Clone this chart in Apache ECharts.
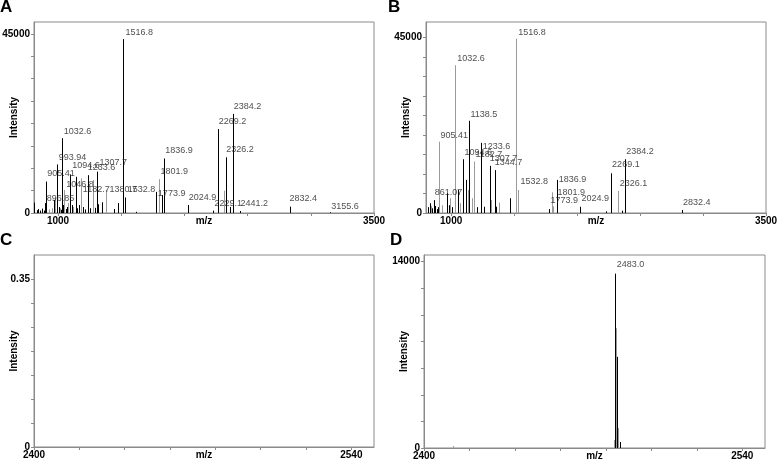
<!DOCTYPE html>
<html><head><meta charset="utf-8">
<script src="https://cdn.jsdelivr.net/npm/echarts@6/dist/echarts.min.js"></script>
<style>html,body{margin:0;padding:0;background:#fff}#c{width:777px;height:461px}</style>
</head><body><div id="c"></div>
<script>
// ---------- DATA ----------
// Panel A: [m/z, intensity]
const aBlack = [[812,2600],[830,700],[845,1000],[858,600],[872,1100],[886,600],[896.85,2500],[905.41,7900],[967,3300],[993.94,12200],[1005,1500],[1020,800],[1032.6,18800],[1040,2000],[1060,1000],[1070,1500],[1094.6,9700],[1110,2000],[1138.5,9100],[1150,1200],[1165,2000],[1200,1500],[1215,900],[1233.6,9500],[1250,1200],[1290,1300],[1307.7,10400],[1320,2200],[1350,2700],[1440,1000],[1473,2500],[1516.8,43700],[1532.8,3900],[1619,300],[1773.9,5300],[1820,4500],[1836.9,13700],[2024.9,2000],[2229.1,600],[2269.2,21100],[2326.2,14000],[2357,1500],[2384.2,24900],[2441.2,500],[2832.4,1600],[3155.6,200]];
const aGrey = [[930,900],[950,1200],[980,4000],[1015,1200],[1046.8,5800],[1080,2500],[1120,1500],[1182.7,8700],[1275,8300],[1380.7,5800],[1801.9,8500],[2317,5600]];
// label anchors: [m/z, intensity, text]
const aLabels = [[910,2770,'896.85'],[915,8920,'905.41'],[1006,13070,'993.94'],[1046,19600,'1032.6'],[1065,6280,'1046.8'],[1112,11060,'1094.6'],[1196,5030,'1182.7'],[1236,10560,'1233.6'],[1328,11810,'1307.7'],[1407,5030,'1380.7'],[1534,44500,'1516.8'],[1552,5030,'1532.8'],[1790,4020,'1773.9'],[1811,9430,'1801.9'],[1848,14700,'1836.9'],[2035,3020,'2024.9'],[2238,1510,'2229.1'],[2272,22000,'2269.2'],[2331,14960,'2326.2'],[2391,25770,'2384.2'],[2444,1510,'2441.2'],[2831,2770,'2832.4'],[3161,630,'3155.6']];

// Panel B
const bBlack = [[812,1500],[830,2500],[850,1200],[861.07,3300],[872,1800],[885,1000],[895,1500],[966,5100],[985,2000],[1010,1500],[1058,5900],[1094.6,13800],[1115,8500],[1138.5,23650],[1205,1500],[1233.6,18000],[1257,1600],[1307.7,12100],[1344.7,11000],[1355,1600],[1468,3800],[1773.9,1000],[1836.9,8500],[2024.9,1600],[2229,400],[2269.1,10200],[2355,600],[2384.2,13800],[2832.4,770]];
const bGrey = [[840,1800],[905.41,18300],[925,2000],[992,3800],[1032.6,37900],[1070,2500],[1132,5900],[1164,3800],[1182.7,13200],[1317,3300],[1381,2650],[1516.8,44700],[1532.8,5900],[1801.9,5300],[1812,1700],[2326.1,5700]];
const bLabels = [[870,4370,'861.07'],[915,19030,'905.41'],[1048,38830,'1032.6'],[1106,14660,'1094.6'],[1153,24430,'1138.5'],[1193,14140,'1182.7'],[1251,16200,'1233.6'],[1306,13110,'1307.7'],[1346,11960,'1344.7'],[1532,45500,'1516.8'],[1550,7070,'1532.8'],[1788,2190,'1773.9'],[1844,4240,'1801.9'],[1854,7710,'1836.9'],[2034,2830,'2024.9'],[2278,11570,'2269.1'],[2338,6690,'2326.1'],[2391,14790,'2384.2'],[2841,1670,'2832.4']];

// Panel C: no signal
const cBlack = [];
// Panel D
const dBlack = [[2483.9,13100],[2485.0,6850],[2486.3,450]];
const dGrey = [[2412.8,150],[2483.5,600],[2484.3,9000],[2484.5,5000],[2485.4,1500]];
const dLabels = [[2484.8,13490,'2483.0']];

// ticks
const abXTicks = [1000,1500,2000,2500,3000,3500];
const abXLabels = [1000,3500];
const aYTicks = [0,5625,11250,16875,22500,28125,33750,39375,45000];
const bYTicks = [0,5000,10000,15000,20000,25000,30000,35000,40000,45000];
const abYLabels = [0,45000];
const cdXTicks = [2400,2420,2440,2460,2480,2500,2520,2540];
const cdXLabels = [2400,2540];
const cYTicks = [0,0.05,0.1,0.15,0.2,0.25,0.3,0.35];
const cYLabels = [0,0.35];
const dYTicks = [0,2000,4000,6000,8000,10000,12000,14000];
const dYLabels = [0,14000];

// ---------- CHART ----------
const FONT = 'Liberation Sans, Arial, sans-serif';
const AX = '#8a8a8a';
const chart = echarts.init(document.getElementById('c'), null, {renderer:'canvas'});
const plain = function(v){return String(v);};

function grid(l,t,w,h){return {left:l,top:t,width:w,height:h,show:true,borderColor:AX,borderWidth:1,backgroundColor:'#fff',containLabel:false,outerBoundsMode:'none'};}
function xAxis(i,min,max,ticks,labels){
  return {type:'value',gridIndex:i,min:min,max:max,name:'m/z',nameLocation:'middle',nameGap:3,
    nameMoveOverlap:false,
    nameTextStyle:{fontFamily:FONT,fontWeight:'bold',fontSize:10,color:'#000',verticalAlign:'top'},
    axisLine:{show:true,onZero:false,lineStyle:{color:AX,width:1}},
    axisTick:{show:true,length:3,customValues:ticks,lineStyle:{color:AX}},
    axisLabel:{show:true,customValues:labels,formatter:plain,margin:3,fontFamily:FONT,fontWeight:'bold',fontSize:10,color:'#000'},
    splitLine:{show:false}};
}
function yAxis(i,min,max,ticks,labels){
  return {type:'value',gridIndex:i,min:min,max:max,name:'Intensity',nameLocation:'middle',nameGap:15,nameRotate:90,
    nameMoveOverlap:false,
    nameTextStyle:{fontFamily:FONT,fontWeight:'bold',fontSize:10,color:'#000'},
    axisLine:{show:true,onZero:false,lineStyle:{color:AX,width:1}},
    axisTick:{show:true,length:3,customValues:ticks,lineStyle:{color:AX}},
    axisLabel:{show:true,customValues:labels,formatter:plain,margin:4,fontFamily:FONT,fontWeight:'bold',fontSize:10,color:'#000'},
    splitLine:{show:false}};
}
function sticks(i,data,color){
  return {type:'custom',xAxisIndex:i,yAxisIndex:i,data:data,clip:true,silent:true,
    encode:{x:0,y:1},
    renderItem:function(params,api){
      const p0=api.coord([api.value(0),0]);
      const p1=api.coord([api.value(0),api.value(1)]);
      const x=Math.round(p0[0])+0.5;
      return {type:'line',shape:{x1:x,y1:p0[1],x2:x,y2:p1[1]},style:{stroke:color,lineWidth:1}};
    }};
}
function labels(i,data){
  return {type:'scatter',xAxisIndex:i,yAxisIndex:i,data:data,symbolSize:0,silent:true,
    label:{show:true,position:'top',distance:0,align:'left',offset:[0,1],
      formatter:function(p){return p.value[2];},
      fontFamily:FONT,fontSize:9,color:'#222'}};
}

const option = {
  animation:false,
  backgroundColor:'#fff',
  grid:[grid(34,22,340,191),grid(426,22,340,191),grid(34,255,340,192),grid(424,255,341,193)],
  xAxis:[xAxis(0,810,3500,abXTicks,abXLabels),xAxis(1,800,3500,abXTicks,abXLabels),
         xAxis(2,2400,2550,cdXTicks,cdXLabels),xAxis(3,2400,2550,cdXTicks,cdXLabels)],
  yAxis:[yAxis(0,0,48000,aYTicks,abYLabels),yAxis(1,0,49000,bYTicks,abYLabels),
         yAxis(2,0,0.4,cYTicks,cYLabels),yAxis(3,0,14500,dYTicks,dYLabels)],
  series:[
    sticks(0,aGrey,'#9a9a9a'),sticks(0,aBlack,'#000'),labels(0,aLabels),
    sticks(1,bGrey,'#9a9a9a'),sticks(1,bBlack,'#000'),labels(1,bLabels),
    sticks(2,cBlack,'#000'),
    sticks(3,dGrey,'#9a9a9a'),sticks(3,dBlack,'#000'),labels(3,dLabels)
  ],
  graphic:[
    {type:'text',left:0,top:-1,style:{text:'A',font:'bold 17px '+FONT,fill:'#000'}},
    {type:'text',left:388,top:-1,style:{text:'B',font:'bold 17px '+FONT,fill:'#000'}},
    {type:'text',left:0,top:232,style:{text:'C',font:'bold 17px '+FONT,fill:'#000'}},
    {type:'text',left:390,top:232,style:{text:'D',font:'bold 17px '+FONT,fill:'#000'}}
  ]
};
chart.setOption(option);
</script></body></html>
